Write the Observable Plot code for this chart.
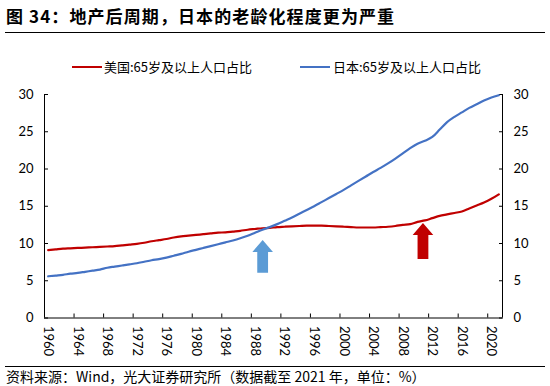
<!DOCTYPE html>
<html>
<head>
<meta charset="utf-8">
<script src="https://cdn.jsdelivr.net/npm/d3@7"></script>
<script src="https://cdn.jsdelivr.net/npm/@observablehq/plot@0.6"></script>
<style>
  html, body { margin: 0; padding: 0; background: #fff; }
  body { width: 550px; height: 386px; position: relative; overflow: hidden;
         font-family: "Noto Sans CJK SC", "Noto Sans", sans-serif; color: #000; }
  #title { position: absolute; left: 6px; top: 3px; font-size: 17px; font-weight: bold; letter-spacing: 1.1px; white-space: nowrap; }
  #rule1 { position: absolute; left: 5px; width: 540px; top: 32px; border-top: 1px solid #000; }
  #legend { position: absolute; top: 58px; left: 0; width: 550px; height: 18px; font-size: 13px; }
  .sw { position: absolute; top: 8px; width: 30px; height: 2px; }
  .lab { position: absolute; top: 0; line-height: 17px; white-space: nowrap; }
  #chart { position: absolute; left: 0; top: 80px; }
  #rule2 { position: absolute; left: 5px; width: 540px; top: 366px; border-top: 1px solid #000; }
  #foot { position: absolute; left: 6px; top: 367px; font-size: 14px; line-height: 18px; white-space: nowrap; }
</style>
</head>
<body>
<div id="title">图 34：地产后周期，日本的老龄化程度更为严重</div>
<div id="rule1"></div>
<div id="legend"></div>
<div id="chart"></div>
<div id="rule2"></div>
<div id="foot">资料来源：Wind，光大证券研究所（数据截至 2021 年，单位：%）</div>
<script>
// ---- data ----
const years = d3.range(1960, 2022);
const usShare = [
  9.1, 9.2, 9.3, 9.35, 9.4, 9.45, 9.5, 9.55, 9.6, 9.65,
  9.75, 9.85, 9.95, 10.1, 10.3, 10.45, 10.6, 10.8, 10.95, 11.05,
  11.15, 11.25, 11.35, 11.45, 11.5, 11.6, 11.7, 11.85, 11.95, 12.05,
  12.1, 12.2, 12.25, 12.3, 12.35, 12.4, 12.4, 12.4, 12.35, 12.3,
  12.25, 12.2, 12.15, 12.15, 12.15, 12.2, 12.25, 12.35, 12.5, 12.6,
  12.9, 13.1, 13.4, 13.7, 13.9, 14.1, 14.3, 14.7, 15.1, 15.5,
  16.0, 16.6
];
const jpShare = [
  5.6, 5.7, 5.8, 5.95, 6.05, 6.2, 6.35, 6.5, 6.75, 6.9,
  7.05, 7.2, 7.35, 7.55, 7.75, 7.9, 8.1, 8.35, 8.6, 8.9,
  9.15, 9.4, 9.65, 9.9, 10.15, 10.4, 10.7, 11.05, 11.45, 11.85,
  12.2, 12.6, 13.05, 13.5, 14.0, 14.5, 15.0, 15.55, 16.1, 16.65,
  17.2, 17.8, 18.4, 19.0, 19.6, 20.15, 20.75, 21.4, 22.1, 22.8,
  23.4, 23.8, 24.3, 25.3, 26.3, 27.0, 27.6, 28.2, 28.7, 29.2,
  29.6, 29.9
];
const seriesNames = ["美国:65岁及以上人口占比", "日本:65岁及以上人口占比"];
const seriesColors = ["#C00000", "#4472C4"];
const yTicks = [0, 5, 10, 15, 20, 25, 30];
const xLabelYears = d3.range(1960, 2021, 4);
const xTickBounds = d3.range(1963.5, 2020, 4);
const xDomain = [1959.5, 2021.5];
// annotation arrows: year, tip value, tail value
const arrows = [
  {year: 1989.1, top: 10.4, bottom: 6.0, color: "#5B9BD5"},
  {year: 2010.8, top: 12.7, bottom: 7.85, color: "#C00000"}
];

const rows = [];
years.forEach((y, i) => {
  rows.push({year: y, value: usShare[i], series: seriesNames[0]});
  rows.push({year: y, value: jpShare[i], series: seriesNames[1]});
});

// legend
const legend = document.getElementById("legend");
const legendPos = [[72, 104], [300, 333]];
seriesNames.forEach((n, i) => {
  const sw = document.createElement("div");
  sw.className = "sw"; sw.style.left = legendPos[i][0] + "px"; sw.style.background = seriesColors[i];
  const lb = document.createElement("div");
  lb.className = "lab"; lb.style.left = legendPos[i][1] + "px"; lb.textContent = n;
  legend.appendChild(sw); legend.appendChild(lb);
});

const arrowMark = (index, scales) => {
  const g = d3.create("svg:g");
  for (const a of arrows) {
    const cx = scales.x(a.year), ty = scales.y(a.top), by = scales.y(a.bottom);
    const hw = 10.3, sw = 5.4, hh = 12;
    const pts = [[cx, ty], [cx + hw, ty + hh], [cx + sw, ty + hh], [cx + sw, by],
                 [cx - sw, by], [cx - sw, ty + hh], [cx - hw, ty + hh]];
    g.append("path").attr("d", "M" + pts.map(p => p.join(",")).join("L") + "Z").attr("fill", a.color);
  }
  return g.node();
};

const noText = () => "";
const tickFont = "Lato, 'Noto Sans', sans-serif";
const chart = Plot.plot({
  width: 550,
  height: 284,
  marginLeft: 44,
  marginRight: 48,
  marginTop: 14,
  marginBottom: 46.5,
  style: {fontFamily: tickFont, fontSize: "13px", color: "#000", background: "transparent"},
  x: {domain: xDomain, axis: null},
  y: {domain: [0, 30], axis: null},
  marks: [
    Plot.ruleX([xDomain[0], xDomain[1]], {stroke: "#000", strokeWidth: 1}),
    Plot.ruleY([0], {stroke: "#000", strokeWidth: 1}),
    Plot.axisY({anchor: "left", ticks: yTicks, tickSize: -4, tickFormat: noText, label: null, stroke: "#000"}),
    Plot.axisY({anchor: "left", ticks: yTicks, tickSize: 0, tickPadding: 11, label: null, fill: "#000", fontSize: 13}),
    Plot.axisY({anchor: "right", ticks: yTicks, tickSize: -4, tickFormat: noText, label: null, stroke: "#000"}),
    Plot.axisY({anchor: "right", ticks: yTicks, tickSize: 0, tickPadding: 11, label: null, fill: "#000", fontSize: 13}),
    Plot.axisX({anchor: "bottom", ticks: xTickBounds, tickSize: -4, tickFormat: noText, label: null, stroke: "#000"}),
    Plot.axisX({anchor: "bottom", ticks: xLabelYears, tickSize: 0, tickPadding: 8, tickRotate: 90, tickFormat: d => String(d), label: null, fill: "#000", fontSize: 13}),
    Plot.line(rows, {x: "year", y: "value", z: "series", stroke: "series", strokeWidth: 2.2, curve: "monotone-x"}),
    arrowMark
  ],
  color: {domain: seriesNames, range: seriesColors}
});
document.getElementById("chart").appendChild(chart);
</script>
</body>
</html>
